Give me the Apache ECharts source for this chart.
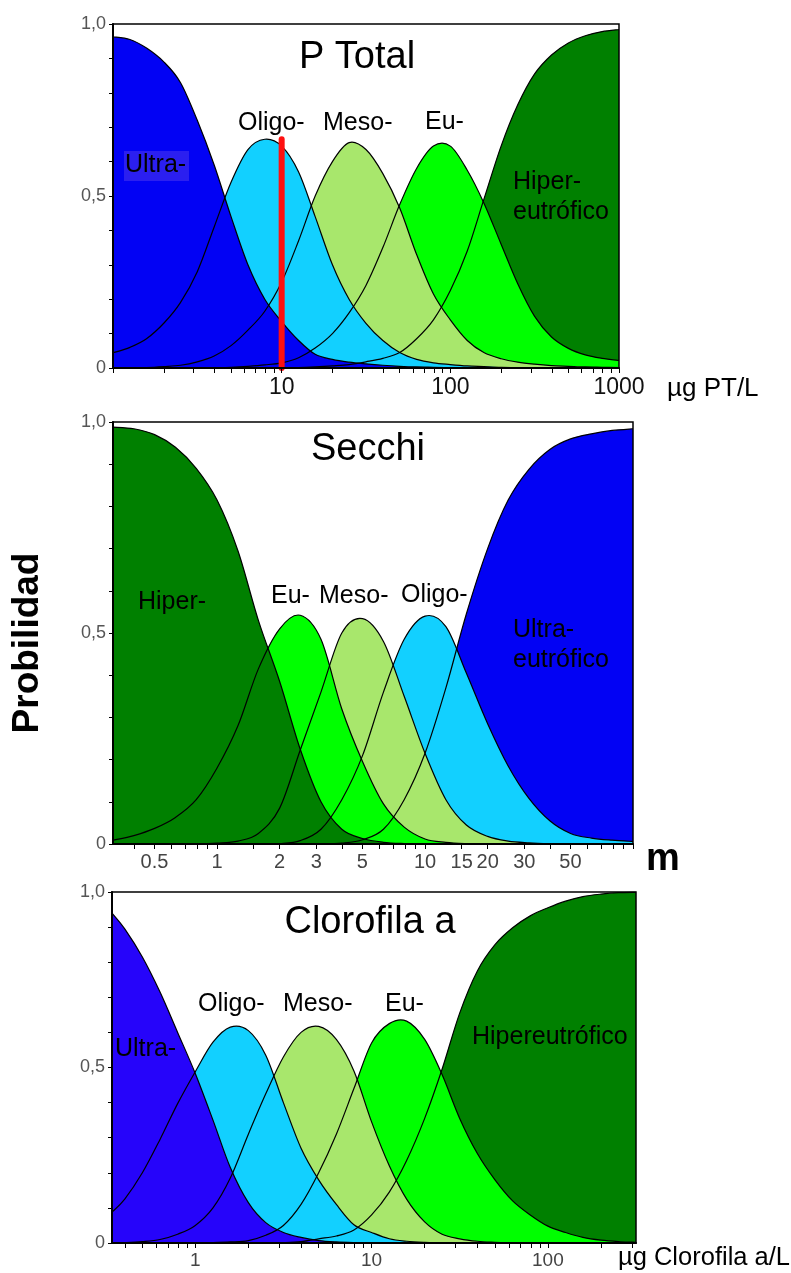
<!DOCTYPE html>
<html>
<head>
<meta charset="utf-8">
<script src="https://cdn.jsdelivr.net/npm/echarts@6/dist/echarts.min.js"></script>
<style>
html,body{margin:0;padding:0;background:#fff;}
#c{width:791px;height:1273px;}
</style>
</head>
<body>
<div id="c"></div>
<script>
// ---------------- Panel 1: P Total (µg PT/L) ----------------
const ptX = [1, 1.26, 1.58, 2, 2.51, 3.16, 3.98, 5.01, 6.31, 7.94, 10, 12.6, 15.8, 20, 25.1, 31.6, 39.8, 50.1, 63.1, 79.4, 100, 126, 158, 200, 251, 316, 398, 501, 631, 794, 1000];
const ptUltra = [0.963,0.955,0.93,0.89,0.83,0.72,0.59,0.44,0.30,0.20,0.135,0.08,0.04,0.025,0.017,0.012,0.008,0.005,0.003,0.002,0.001,0,0,0,0,0,0,0,0,0,0];
const ptOligo = [0.044,0.06,0.085,0.13,0.19,0.28,0.41,0.54,0.635,0.665,0.645,0.57,0.44,0.30,0.20,0.13,0.08,0.045,0.025,0.015,0.01,0.006,0.004,0.002,0.001,0,0,0,0,0,0];
const ptMeso = [0,0,0.001,0.004,0.008,0.018,0.035,0.065,0.11,0.165,0.25,0.37,0.50,0.60,0.655,0.635,0.565,0.465,0.33,0.215,0.14,0.08,0.045,0.027,0.017,0.011,0.007,0.005,0.003,0.002,0.001];
const ptEu = [0,0,0,0,0,0,0,0.002,0.005,0.009,0.015,0.03,0.058,0.10,0.16,0.24,0.35,0.475,0.58,0.645,0.645,0.575,0.48,0.36,0.245,0.15,0.09,0.057,0.038,0.028,0.022];
const ptHyper = [0,0,0,0,0,0,0,0,0,0,0,0.001,0.003,0.006,0.01,0.018,0.028,0.045,0.085,0.14,0.225,0.34,0.49,0.645,0.765,0.855,0.91,0.945,0.966,0.978,0.984];
const ptRedX = [10, 10];
const ptRedY = [0, 0.665];
const ptTicks = [1,2,3,4,5,6,7,8,9,10,20,30,40,50,60,70,80,90,100,200,300,400,500,600,700,800,900,1000];
const ptLabelVals = [10, 100, 1000];
const ptLabelTexts = ['10', '100', '1000'];

// ---------------- Panel 2: Secchi (m) ----------------
const sdX = [0.316,0.398,0.501,0.631,0.794,1,1.26,1.58,2,2.51,3.16,3.98,5.01,6.31,7.94,10,12.6,15.8,20,25.1,31.6,39.8,50.1,63.1,79.4,100];
const sdHyper = [0.988,0.984,0.97,0.94,0.89,0.815,0.695,0.53,0.385,0.225,0.10,0.035,0.013,0.004,0.001,0,0,0,0,0,0,0,0,0,0,0];
const sdEu = [0.009,0.02,0.037,0.063,0.105,0.18,0.28,0.415,0.51,0.542,0.485,0.32,0.195,0.095,0.04,0.012,0.004,0.001,0,0,0,0,0,0,0,0];
const sdMeso = [0,0,0,0,0,0.002,0.007,0.025,0.085,0.222,0.36,0.50,0.534,0.48,0.35,0.215,0.105,0.045,0.018,0.007,0.003,0.001,0,0,0,0];
const sdOligo = [0,0,0,0,0,0,0,0,0.001,0.008,0.035,0.105,0.21,0.36,0.485,0.54,0.515,0.405,0.285,0.185,0.108,0.055,0.025,0.014,0.009,0.006];
const sdUltra = [0,0,0,0,0,0,0,0,0,0,0,0.002,0.01,0.035,0.105,0.215,0.37,0.545,0.70,0.815,0.888,0.935,0.96,0.972,0.98,0.984];
const sdTicks = [0.4,0.5,0.6,0.7,0.8,0.9,1,1.5,2,3,4,5,6,7,8,9,10,15,20,30,40,50,60,70,80,90,100];
const sdLabelVals = [0.5, 1, 2, 3, 5, 10, 15, 20, 30, 50];
const sdLabelTexts = ['0.5', '1', '2', '3', '5', '10', '15', '20', '30', '50'];

// ---------------- Panel 3: Clorofila a (µg/L) ----------------
const chX = [0.337,0.398,0.501,0.631,0.794,1,1.26,1.58,2,2.51,3.16,3.98,5.01,6.31,7.94,10,12.6,15.8,20,25.1,31.6,39.8,50.1,63.1,79.4,100,126,158,200,251,316];
const chUltra = [0.94,0.895,0.815,0.715,0.60,0.483,0.35,0.215,0.115,0.058,0.03,0.016,0.007,0.003,0.001,0,0,0,0,0,0,0,0,0,0,0,0,0,0,0,0];
const chOligo = [0.088,0.125,0.2,0.295,0.397,0.488,0.572,0.615,0.605,0.535,0.40,0.27,0.18,0.11,0.052,0.03,0.012,0.005,0.002,0.001,0,0,0,0,0,0,0,0,0,0,0];
const chMeso = [0,0.001,0.004,0.01,0.025,0.05,0.1,0.185,0.31,0.425,0.53,0.6,0.617,0.58,0.49,0.345,0.22,0.125,0.06,0.025,0.012,0.005,0.002,0,0,0,0,0,0,0,0];
const chEu = [0,0,0,0,0,0,0.001,0.003,0.007,0.022,0.05,0.11,0.2,0.31,0.44,0.57,0.625,0.632,0.58,0.48,0.355,0.255,0.18,0.12,0.08,0.048,0.03,0.016,0.008,0.004,0.002];
const chHyper = [0,0,0,0,0,0,0,0,0,0,0.001,0.004,0.012,0.02,0.037,0.08,0.145,0.235,0.355,0.495,0.655,0.775,0.85,0.898,0.932,0.955,0.974,0.987,0.994,0.998,0.999];
const chTicks = [0.4,0.5,0.6,0.7,0.8,0.9,1,2,3,4,5,6,7,8,9,10,20,30,40,50,60,70,80,90,100,200,300];
const chLabelVals = [1, 10, 100];
const chLabelTexts = ['1', '10', '100'];

// ---------------- styling ----------------
const FONT = '"Liberation Sans", Arial, Helvetica, sans-serif';
const C = {
  ultra: '#0202f4', ultraBox: '#2b1ff0', ultra3: '#2604fa',
  oligo: '#12d0ff', meso: '#a8e76c', eu: '#00ff00', hyper: '#008000'
};

const grids = [
  {left: 113, top: 24, width: 506, height: 344, xMin: 1, xMax: 1000},
  {left: 113, top: 422, width: 520, height: 422, xMin: 0.316, xMax: 100},
  {left: 112, top: 892, width: 524, height: 351, xMin: 0.337, xMax: 316}
];

const panels = [
  {ticks: ptTicks, lv: ptLabelVals, lt: ptLabelTexts, lsize: 23, lcolor: '#111', lmargin: 8,
   curves: [[ptHyper, C.hyper], [ptEu, C.eu], [ptMeso, C.meso], [ptOligo, C.oligo], [ptUltra, C.ultra]], xs: ptX},
  {ticks: sdTicks, lv: sdLabelVals, lt: sdLabelTexts, lsize: 20, lcolor: '#444', lmargin: 8,
   curves: [[sdUltra, C.ultra], [sdOligo, C.oligo], [sdMeso, C.meso], [sdEu, C.eu], [sdHyper, C.hyper]], xs: sdX},
  {ticks: chTicks, lv: chLabelVals, lt: chLabelTexts, lsize: 19, lcolor: '#444', lmargin: 8,
   curves: [[chHyper, C.hyper], [chEu, C.eu], [chMeso, C.meso], [chOligo, C.oligo], [chUltra, C.ultra3]], xs: chX}
];

// Catmull-Rom curve through pixel points (drawing only; data stay as read)
function smoothSegments(pts) {
  let d = '';
  const t = 1 / 6;
  for (let i = 0; i < pts.length - 1; i++) {
    const p0 = pts[i - 1] || pts[i], p1 = pts[i], p2 = pts[i + 1], p3 = pts[i + 2] || pts[i + 1];
    const c1x = p1[0] + (p2[0] - p0[0]) * t, c1y = p1[1] + (p2[1] - p0[1]) * t;
    const c2x = p2[0] - (p3[0] - p1[0]) * t, c2y = p2[1] - (p3[1] - p1[1]) * t;
    d += ' C' + c1x.toFixed(2) + ',' + c1y.toFixed(2) + ' ' + c2x.toFixed(2) + ',' + c2y.toFixed(2) +
         ' ' + p2[0].toFixed(2) + ',' + p2[1].toFixed(2);
  }
  return d;
}

function curveSeries(xIdx, yIdx, xs, ys, fill, z) {
  return {
    type: 'custom', coordinateSystem: 'cartesian2d', xAxisIndex: xIdx, yAxisIndex: yIdx,
    silent: true, z: z, encode: {x: 0, y: 1},
    data: xs.map((x, j) => [x, ys[j]]),
    renderItem: function (params, api) {
      if (params.dataIndex !== 0) return null;
      const pts = xs.map((x, j) => api.coord([x, ys[j]]));
      let d;
      if (fill) {
        const base = api.coord([xs[0], 0])[1];
        d = 'M' + pts[0][0] + ',' + base + ' L' + pts[0][0] + ',' + pts[0][1] + smoothSegments(pts) +
            ' L' + pts[pts.length - 1][0] + ',' + base + ' Z';
        return {type: 'path', shape: {pathData: d}, style: {fill: fill, stroke: null, lineWidth: 0}};
      }
      d = 'M' + pts[0][0] + ',' + pts[0][1] + smoothSegments(pts);
      return {type: 'path', shape: {pathData: d}, style: {fill: null, stroke: '#000', lineWidth: 1.2}};
    }
  };
}

const gridOpt = [], xAxes = [], yAxes = [], series = [];
grids.forEach((g, i) => {
  gridOpt.push({left: g.left, top: g.top, width: g.width, height: g.height, show: true,
    borderColor: '#000', borderWidth: 1.5, backgroundColor: 'transparent', z: 50});
  const p = panels[i];
  const lmin = Math.log10(g.xMin), lmax = Math.log10(g.xMax);
  xAxes.push({type: 'log', logBase: 10, gridIndex: i, min: g.xMin, max: g.xMax, show: false});
  xAxes.push({
    type: 'value', gridIndex: i, min: lmin, max: lmax, position: 'bottom', z: 50,
    axisLine: {show: true, onZero: false, lineStyle: {color: '#000', width: 2}},
    axisTick: {show: true, inside: false, length: 5, lineStyle: {color: '#000', width: 1},
      customValues: p.ticks.map(v => Math.log10(v))},
    axisLabel: {show: true, margin: p.lmargin, fontSize: p.lsize, color: p.lcolor, fontFamily: FONT,
      customValues: p.lv.map(v => Math.log10(v)),
      formatter: function (val) {
        let best = '', d = 1e9;
        p.lv.forEach((lv, k) => { const dd = Math.abs(Math.log10(lv) - val); if (dd < d) { d = dd; best = p.lt[k]; } });
        return d < 1e-6 ? best : '';
      }},
    splitLine: {show: false}
  });
  yAxes.push({
    type: 'value', gridIndex: i, min: 0, max: 1, interval: 0.1, z: 50,
    axisLine: {show: true, onZero: false, lineStyle: {color: '#000', width: 2}},
    axisTick: {show: true, inside: false, length: 4, lineStyle: {color: '#000', width: 1}},
    axisLabel: {margin: 7, fontSize: 18, color: '#555', fontFamily: FONT,
      formatter: function (v) {
        if (Math.abs(v - 1) < 1e-6) return '1,0';
        if (Math.abs(v - 0.5) < 1e-6) return '0,5';
        if (Math.abs(v) < 1e-6) return '0';
        return '';
      }},
    splitLine: {show: false}
  });
  const xIdx = i * 2;
  p.curves.forEach((c, k) => series.push(curveSeries(xIdx, i, p.xs, c[0], c[1], 2 + k)));
  p.curves.forEach((c) => series.push(curveSeries(xIdx, i, p.xs, c[0], null, 20)));
});

// red marker line at 10 µg PT/L
series.push({
  type: 'line', xAxisIndex: 0, yAxisIndex: 0, silent: true, symbol: 'none',
  data: ptRedX.map((x, j) => [x, ptRedY[j]]),
  lineStyle: {color: '#ff1010', width: 6, cap: 'round'},
  z: 30
});

function txt(text, x, baseline, size, align, weight) {
  return {
    type: 'text', z: 100, x: x, y: baseline - 0.32 * size,
    style: {text: text, fill: '#000', font: (weight || 'normal') + ' ' + size + 'px ' + FONT,
      textAlign: align || 'left', textVerticalAlign: 'middle', align: align || 'left', verticalAlign: 'middle'}
  };
}

const graphic = [
  txt('P Total', 357, 70, 38, 'center'),
  {type: 'rect', z: 99, shape: {x: 124, y: 151, width: 65, height: 30}, style: {fill: C.ultraBox}},
  txt('Ultra-', 125, 173, 25),
  txt('Oligo-', 238, 131, 25),
  txt('Meso-', 323, 131, 25),
  txt('Eu-', 425, 130, 25),
  txt('Hiper-', 513, 190, 25),
  txt('eutrófico', 513, 220, 25),
  txt('µg PT/L', 667, 397, 26),
  txt('Secchi', 368, 462, 38, 'center'),
  txt('Hiper-', 138, 610, 25),
  txt('Eu-', 271, 604, 25),
  txt('Meso-', 319, 604, 25),
  txt('Oligo-', 401, 603, 25),
  txt('Ultra-', 513, 638, 25),
  txt('eutrófico', 513, 668, 25),
  txt('m', 646, 872, 38, 'left', 'bold'),
  txt('Clorofila a', 370, 935, 38, 'center'),
  txt('Ultra-', 115, 1057, 25),
  txt('Oligo-', 198, 1012, 25),
  txt('Meso-', 283, 1012, 25),
  txt('Eu-', 385, 1012, 25),
  txt('Hipereutrófico', 472, 1045, 25),
  txt('µg Clorofila a/L', 618, 1266, 25.5),
  {type: 'text', z: 100, x: 28, y: 643, rotation: Math.PI / 2,
   style: {text: 'Probilidad', fill: '#000', font: 'bold 37px ' + FONT,
     textAlign: 'center', textVerticalAlign: 'middle', align: 'center', verticalAlign: 'middle'}}
];

const chart = echarts.init(document.getElementById('c'), null, {renderer: 'canvas'});
chart.setOption({
  animation: false,
  backgroundColor: '#ffffff',
  grid: gridOpt,
  xAxis: xAxes,
  yAxis: yAxes,
  series: series,
  graphic: graphic
});
</script>
</body>
</html>
